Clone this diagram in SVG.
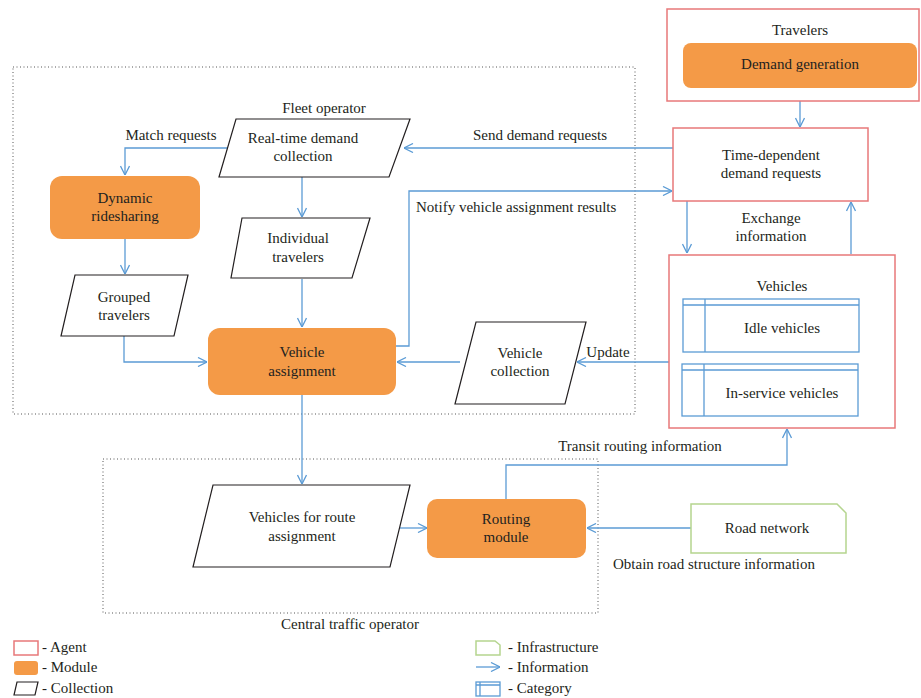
<svg xmlns="http://www.w3.org/2000/svg" width="921" height="698" viewBox="0 0 921 698">
<defs>
<marker id="arr" viewBox="0 0 10 10" refX="10" refY="5" markerWidth="10" markerHeight="10" markerUnits="userSpaceOnUse" orient="auto">
<path d="M1,0.5 L10,5 L1,9.5" fill="none" stroke="#5B9BD5" stroke-width="1.3"/>
</marker>
<style>
text{font-family:"Liberation Serif","Times New Roman",serif;font-size:15px;fill:#231F20;text-anchor:middle}
.l{text-anchor:start}
.agent{fill:#fff;stroke:#E8787A;stroke-width:1.5}
.module{fill:#F49A47;stroke:none}
.coll{fill:#fff;stroke:#231F20;stroke-width:1.2}
.cat{fill:#fff;stroke:#5B9BD5;stroke-width:1.3}
.infra{fill:#fff;stroke:#B5D58F;stroke-width:1.5}
.dot{fill:none;stroke:#555;stroke-width:1;stroke-dasharray:1 2.5}
.c{fill:none;stroke:#5B9BD5;stroke-width:1.3;marker-end:url(#arr)}
</style>
</defs>
<rect width="921" height="698" fill="#fff"/>

<g id="fleet-operator">
<rect class="dot" x="13" y="67" width="622" height="347"/>
<text x="324" y="113">Fleet operator</text>
</g>
<g id="central-traffic-operator">
<rect class="dot" x="103" y="459" width="495" height="154"/>
<text x="350" y="629">Central traffic operator</text>
</g>

<g id="connectors">
<path class="c" d="M800,88 V127"/>
<path class="c" d="M687,201 V253"/>
<path class="c" d="M851,254 V202"/>
<path class="c" d="M669,362 H577"/>
<path class="c" d="M460,362 H397"/>
<path class="c" d="M673,148 H404"/>
<path class="c" d="M396,346 H409 V191 H672"/>
<path class="c" d="M227,148 H125 V175"/>
<path class="c" d="M125,239 V274"/>
<path class="c" d="M302,177 V217"/>
<path class="c" d="M302,279 V327"/>
<path class="c" d="M124,336 V362 H207"/>
<path class="c" d="M302,395 V484"/>
<path class="c" d="M400,528 H427"/>
<path class="c" d="M691,528 H587"/>
<path class="c" d="M506,499 V465 H787 V429"/>
<text x="608" y="357">Update</text>
<text x="540" y="140">Send demand requests</text>
<text class="l" x="416" y="212">Notify vehicle assignment results</text>
<text x="171" y="140">Match requests</text>
<text x="771" y="223">Exchange</text>
<text x="771" y="241">information</text>
<text x="640" y="451">Transit routing information</text>
<text x="714" y="569">Obtain road structure information</text>
</g>

<g id="travelers">
<rect class="agent" x="667" y="9" width="252" height="92"/>
<text x="800" y="35">Travelers</text>
</g>
<g id="demand-generation">
<rect class="module" x="683" y="43" width="234" height="45" rx="8"/>
<text x="800" y="69">Demand generation</text>
</g>
<g id="time-dependent-demand-requests">
<rect class="agent" x="673" y="128" width="195" height="73"/>
<text x="771" y="160">Time-dependent</text>
<text x="771" y="178">demand requests</text>
</g>
<g id="vehicles">
<rect class="agent" x="669" y="255" width="226" height="173"/>
<text x="782" y="291">Vehicles</text>
</g>
<g id="idle-vehicles">
<rect class="cat" x="683" y="299" width="176" height="53"/>
<path class="cat" d="M683,305 H859 M705,299 V352"/>
<text x="782" y="333">Idle vehicles</text>
</g>
<g id="in-service-vehicles">
<rect class="cat" x="682" y="364" width="176" height="52"/>
<path class="cat" d="M682,370 H858 M704,364 V416"/>
<text x="782" y="398">In-service vehicles</text>
</g>
<g id="vehicle-collection">
<polygon class="coll" points="476,322 586,322 565,404 455,404"/>
<text x="520" y="358">Vehicle</text>
<text x="520" y="376">collection</text>
</g>
<g id="vehicle-assignment">
<rect class="module" x="208" y="328" width="188" height="67" rx="12"/>
<text x="302" y="357">Vehicle</text>
<text x="302" y="376">assignment</text>
</g>
<g id="real-time-demand-collection">
<polygon class="coll" points="236,119 410,119 389,177 219,177"/>
<text x="303" y="143">Real-time demand</text>
<text x="303" y="161">collection</text>
</g>
<g id="dynamic-ridesharing">
<rect class="module" x="50" y="176" width="150" height="63" rx="12"/>
<text x="125" y="203">Dynamic</text>
<text x="125" y="221">ridesharing</text>
</g>
<g id="grouped-travelers">
<polygon class="coll" points="75,275 188,275 174,336 61,336"/>
<text x="124" y="302">Grouped</text>
<text x="124" y="320">travelers</text>
</g>
<g id="individual-travelers">
<polygon class="coll" points="242,218 370,218 352,278 231,278"/>
<text x="298" y="243">Individual</text>
<text x="298" y="262">travelers</text>
</g>
<g id="vehicles-for-route-assignment">
<polygon class="coll" points="213,485 410,485 390,567 193,567"/>
<text x="302" y="522">Vehicles for route</text>
<text x="302" y="541">assignment</text>
</g>
<g id="routing-module">
<rect class="module" x="427" y="499" width="159" height="59" rx="10"/>
<text x="506" y="524">Routing</text>
<text x="506" y="542">module</text>
</g>
<g id="road-network">
<polygon class="infra" points="691,504 837,504 846,513 846,553 691,553"/>
<text x="767" y="533">Road network</text>
</g>

<g id="legend">
<rect class="agent" x="14" y="641" width="24" height="14" stroke-width="1.2"/>
<text class="l" x="42" y="652">- Agent</text>
<rect class="module" x="14" y="661" width="24" height="14" rx="3"/>
<text class="l" x="42" y="672">- Module</text>
<polygon class="coll" points="17,682 38,682 35,695 14,695"/>
<text class="l" x="42" y="693">- Collection</text>
<polygon class="infra" points="476,641 495,641 500,645 500,655 476,655" stroke-width="1.2"/>
<text class="l" x="508" y="652">- Infrastructure</text>
<path class="c" d="M476,667 H500"/>
<text class="l" x="508" y="672">- Information</text>
<rect class="cat" x="476" y="682" width="24" height="14"/>
<path class="cat" d="M476,685 H500 M480,682 V696"/>
<text class="l" x="508" y="693">- Category</text>
</g>
</svg>
